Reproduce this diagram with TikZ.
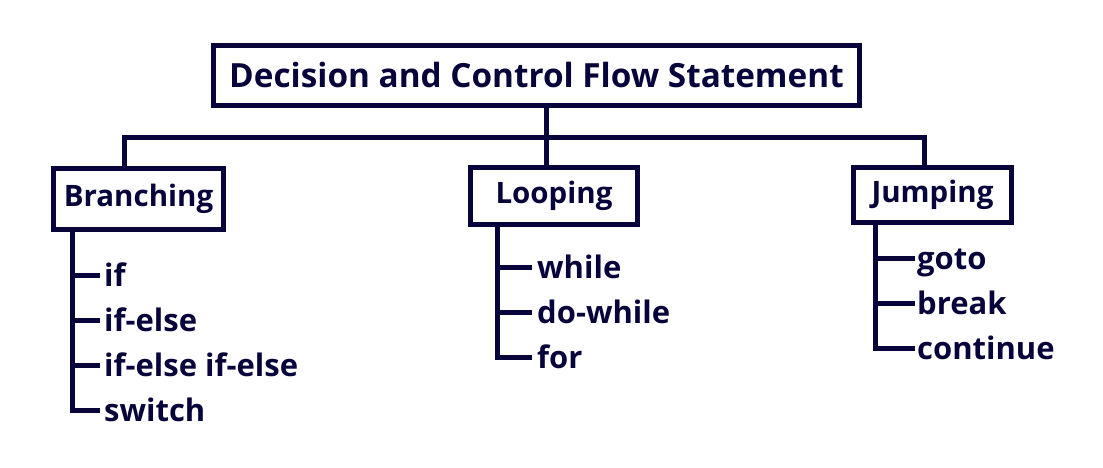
\documentclass[tikz,border=0pt]{standalone}
\usepackage{fontspec}
\setmainfont{Open Sans}
\definecolor{navy}{RGB}{6,4,58}
\tikzset{
  box/.style={draw=navy, line width=5pt, inner sep=0pt, text=navy, font=\bfseries\fontsize{29.5}{36}\selectfont},
  item/.style={inner sep=0pt, text=navy, anchor=base west, font=\bfseries\fontsize{31}{36}\selectfont},
  conn/.style={draw=navy, line width=5pt, line join=miter, line cap=butt},
}
\begin{document}
\begin{tikzpicture}[x=1pt,y=-1pt]
\useasboundingbox (0,0) rectangle (1103,468);
% boxes
\node[box, minimum width=646pt, minimum height=60pt, font=\bfseries\fontsize{33.3}{40}\selectfont] (main) at (536.5,75.5) {Decision and Control Flow Statement};
\node[box, minimum width=170pt, minimum height=61pt] (br) at (138.5,199) {Branching};
\node[box, minimum width=167pt, minimum height=57pt] (lo) at (554,196) {Looping};
\node[box, minimum width=158pt, minimum height=55pt] (ju) at (932.5,195) {Jumping};
% top connectors
\coordinate (hub) at (546.5,137.5);
\draw[conn] (main.south -| hub) -- (lo.north -| hub);
\draw[conn] (br.north -| 124,0) |- (hub) -| (ju.north -| 924,0);
% branching items
\node[item] (b1) at (104,286) {if};
\node[item] (b2) at (104,331) {if-else};
\node[item] (b3) at (104,376) {if-else if-else};
\node[item] (b4) at (104,421) {switch};
\coordinate (bt) at (72,0);
\draw[conn] (br.south -| bt) |- ([xshift=-4pt,yshift=11pt]b4.base west);
\foreach \n in {b1,b2,b3}
  \draw[conn] ([yshift=11pt]bt |- \n.base west) -- ([xshift=-4pt,yshift=11pt]\n.base west);
% looping items
\node[item] (l1) at (537,278) {while};
\node[item] (l2) at (537,323) {do-while};
\node[item] (l3) at (537,368) {for};
\coordinate (lt) at (497.5,0);
\draw[conn] (lo.south -| lt) |- ([xshift=-5pt,yshift=11pt]l3.base west);
\foreach \n in {l1,l2}
  \draw[conn] ([yshift=11pt]lt |- \n.base west) -- ([xshift=-5pt,yshift=11pt]\n.base west);
% jumping items
\node[item] (j1) at (917,269) {goto};
\node[item] (j2) at (917,314) {break};
\node[item] (j3) at (917,359) {continue};
\coordinate (jt) at (875.5,0);
\draw[conn] (ju.south -| jt) |- ([xshift=-2pt,yshift=11pt]j3.base west);
\foreach \n in {j1,j2}
  \draw[conn] ([yshift=11pt]jt |- \n.base west) -- ([xshift=-2pt,yshift=11pt]\n.base west);
\end{tikzpicture}
\end{document}
